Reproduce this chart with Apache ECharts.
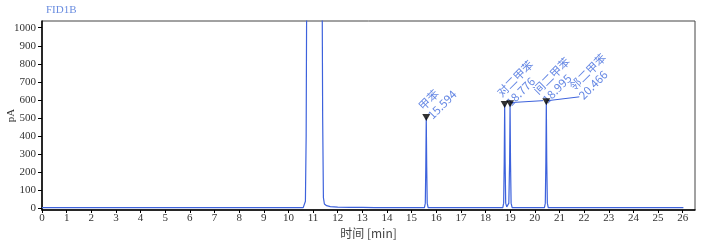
<!DOCTYPE html>
<html><head><meta charset="utf-8">
<script src="https://cdn.jsdelivr.net/npm/echarts@6/dist/echarts.min.js"></script>
<style>html,body{margin:0;padding:0;background:#fff}#c{width:726px;height:243px}</style>
</head><body><div id="c"></div>
<script>
// chromatogram trace: retention time (min) and signal (pA)
const traceTime = [0, 10.0, 10.6, 10.66, 10.69, 10.72, 10.75, 10.8, 11.05, 11.3, 11.36, 11.39, 11.42, 11.46, 11.55, 11.7, 12.0, 12.5, 13.0, 13.5, 14.0,
  15.52, 15.555, 15.575, 15.594, 15.613, 15.633, 15.67,
  18.70, 18.735, 18.758, 18.776, 18.794, 18.818, 18.86, 18.90, 18.945, 18.977, 18.995, 19.013, 19.037, 19.08,
  20.0, 20.39, 20.425, 20.448, 20.466, 20.484, 20.508, 20.545, 26.03];
const traceSignal = [5, 5, 5, 6, 40, 400, 1500, 3000, 5000, 3000, 1500, 500, 60, 25, 16, 11, 8, 7, 6, 5, 5,
  5, 30, 230, 503, 230, 30, 5,
  5, 30, 260, 575, 260, 30, 9, 9, 30, 260, 580, 260, 30, 5,
  5, 5, 30, 260, 590, 260, 30, 5, 5];
// peaks
const peakNames = ['甲苯', '对二甲苯', '间二甲苯', '邻二甲苯'];
const peakTimes = [15.594, 18.776, 18.995, 20.466];
const peakLabels = ['15.594', '18.776', '18.995', '20.466'];
const peakHeights = [503, 575, 580, 590];
// axis ticks
const xTicks = [0,1,2,3,4,5,6,7,8,9,10,11,12,13,14,15,16,17,18,19,20,21,22,23,24,25,26];
const yTicks = [0,100,200,300,400,500,600,700,800,900,1000];

const textShift = [[8, 4], [8, 4], [39, 2], [39, 0]];
const leaderEnd = [null, null, [33, -3], [33, -5]];
const blue = '#3d62dc';
const labelBlue = '#6688e4';
const serif = '"Liberation Serif", "DejaVu Serif", serif';

const chart = echarts.init(document.getElementById('c'), null, {renderer: 'canvas'});
chart.setOption({
  animation: false,
  title: {text: 'FID1B', left: 46, top: 5, padding: 0, textStyle: {fontSize: 11, fontWeight: 'normal', color: '#6a8de0', fontFamily: serif}},
  grid: {left: 42, right: 31, top: 21, bottom: 33, show: true, borderColor: '#444', borderWidth: 1, outerBoundsMode: 'none', containLabel: false},
  xAxis: {
    type: 'value', min: 0, max: 26.5,
    name: '时间 [min]', nameLocation: 'middle', nameGap: 17, nameMoveOverlap: false,
    nameTextStyle: {fontSize: 12, color: '#444', fontFamily: '"Noto Sans CJK SC", ' + serif},
    axisLine: {show: true, onZero: false, lineStyle: {color: '#000', width: 1.5}},
    axisTick: {show: true, length: 3, customValues: xTicks, lineStyle: {color: '#000'}},
    axisLabel: {customValues: xTicks, margin: 3, fontSize: 11, color: '#333', fontFamily: serif, formatter: v => String(v)},
    splitLine: {show: false}
  },
  yAxis: {
    type: 'value', min: -8, max: 1037,
    name: 'pA', nameLocation: 'middle', nameGap: 25, nameRotate: 90, nameMoveOverlap: false,
    nameTextStyle: {fontSize: 11, color: '#333', fontFamily: serif},
    axisLine: {show: true, onZero: false, lineStyle: {color: '#000', width: 1.5}},
    axisTick: {show: true, length: 4, customValues: yTicks, lineStyle: {color: '#000'}},
    axisLabel: {customValues: yTicks, margin: 6, fontSize: 11, color: '#333', fontFamily: serif, formatter: v => String(v)},
    splitLine: {show: false}
  },
  series: [
    {
      type: 'line', data: traceTime.map((t, i) => [t, traceSignal[i]]),
      showSymbol: false, clip: true, lineStyle: {color: blue, width: 1.2}, z: 2
    },
    {
      type: 'custom', z: 3, clip: false,
      data: peakTimes.map((t, i) => [t, peakHeights[i]]),
      renderItem(params, api) {
        const i = params.dataIndex;
        const p = api.coord([api.value(0), api.value(1)]);
        const d = textShift[i];
        const e = leaderEnd[i];
        const children = [];
        if (e) {
          children.push({type: 'line', shape: {x1: p[0], y1: p[1] - 1, x2: p[0] + e[0], y2: p[1] + e[1]}, style: {stroke: blue, lineWidth: 1}});
        }
        children.push({
          type: 'text', x: p[0] + d[0], y: p[1] + d[1], rotation: Math.PI / 4,
          style: {text: peakNames[i] + '\n' + peakLabels[i], fill: labelBlue, fontSize: 11.5, lineHeight: 13,
            fontFamily: '"Noto Sans CJK SC", ' + serif, align: 'left', verticalAlign: 'bottom'}
        });
        return {type: 'group', children};
      }
    },
    {
      type: 'scatter', z: 4,
      data: peakTimes.map((t, i) => [t, peakHeights[i]]),
      symbol: 'triangle', symbolRotate: 180, symbolSize: [8, 7],
      itemStyle: {color: '#000'}
    }
  ]
});
</script></body></html>
